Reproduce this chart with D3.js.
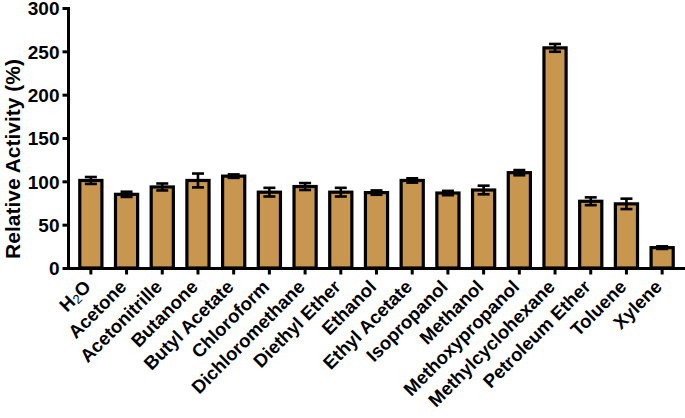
<!DOCTYPE html>
<html><head><meta charset="utf-8">
<script src="https://cdn.jsdelivr.net/npm/d3@7"></script>
<style>body{margin:0;background:#fff}svg{display:block}text{font-family:"Liberation Sans",Arial,sans-serif;font-weight:bold;fill:#000}</style>
</head><body>
<svg id="c" width="685" height="418"></svg>
<script>
const categories = ["H2O","Acetone","Acetonitrille","Butanone","Butyl Acetate","Chloroform","Dichloromethane","Diethyl Ether","Ethanol","Ethyl Acetate","Isopropanol","Methanol","Methoxypropanol","Methylcyclohexane","Petroleum Ether","Toluene","Xylene"];
const values = [101,85,93.5,101,106,87.5,94,87.5,87,101,86.5,90,110,254,77,74,23.5];
const errors = [4,3,4,8,2,5,4,5,2.5,2.5,2.5,5,3,4.5,4.5,6,1.5];
const yTicks = [0,50,100,150,200,250,300];

const svg = d3.select("#c");
const x = d3.scaleBand().domain(categories).range([73,680]).paddingInner(0.38).paddingOuter(0.19);
const y = d3.scaleLinear().domain([0,300]).range([268,8]);
const col = "#C8964F";

// bars
svg.append("g").selectAll("rect").data(categories).join("rect")
  .attr("x", d=>x(d)).attr("width", x.bandwidth())
  .attr("y", (d,i)=>y(values[i])).attr("height",(d,i)=>y(0)-y(values[i]))
  .attr("fill", col).attr("stroke","#000").attr("stroke-width",3.2);

// error bars
const eg = svg.append("g").attr("stroke","#000").attr("stroke-width",2.6);
categories.forEach((c,i)=>{
  const cx = x(c)+x.bandwidth()/2;
  const hi = y(values[i]+errors[i]), lo = y(values[i]-errors[i]);
  eg.append("line").attr("x1",cx).attr("x2",cx).attr("y1",hi).attr("y2",lo);
  eg.append("line").attr("x1",cx-6).attr("x2",cx+6).attr("y1",hi).attr("y2",hi);
  eg.append("line").attr("x1",cx-6).attr("x2",cx+6).attr("y1",lo).attr("y2",lo);
});

// y axis
const ya = svg.append("g").attr("transform","translate(68.5,0)")
  .call(d3.axisLeft(y).tickValues(yTicks).tickSize(6).tickPadding(3));
ya.select(".domain").attr("stroke-width",3).attr("d","M0,"+(y(300)-1)+"V"+(y(0)+1.5));
ya.selectAll(".tick line").attr("stroke-width",3);
ya.selectAll(".tick text").style("font-size","19px").style("font-weight","bold").style("font-family","Liberation Sans, Arial, sans-serif").attr("dy","0.36em");

// x axis
const xa = svg.append("g").attr("transform","translate(0,268.5)")
  .call(d3.axisBottom(x).tickSize(6).tickFormat(""));
xa.select(".domain").attr("stroke-width",3).attr("d","M67,0H685");
xa.selectAll(".tick line").attr("stroke-width",3);

// x labels
const lg = svg.append("g");
categories.forEach((c,i)=>{
  const cx = x(c)+x.bandwidth()/2;
  const t = lg.append("text").attr("text-anchor","end")
    .attr("transform",`translate(${cx+1},${288}) rotate(-45)`)
    .style("font-size","18.5px");
  if (c === "H2O") {
    t.append("tspan").text("H");
    t.append("tspan").text("2").style("font-size","13px").style("font-weight","normal").attr("dy","2");
    t.append("tspan").text("O").attr("dy","-2");
  } else t.text(c);
});

// y label
svg.append("text").attr("text-anchor","middle")
  .attr("transform",`translate(20,${159}) rotate(-90)`)
  .style("font-size","21px").text("Relative Activity (%)");
</script>
</body></html>
